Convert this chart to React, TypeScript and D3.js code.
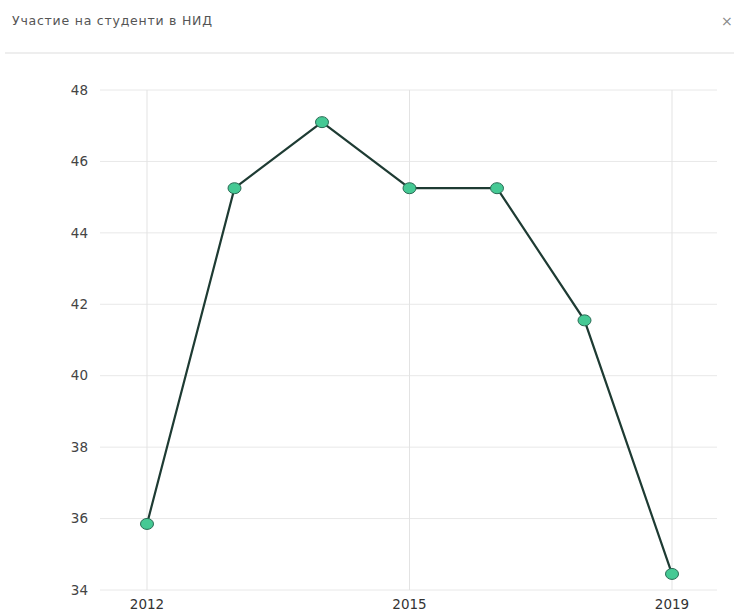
import React from "react";
import * as d3 from "d3";

const categories = ["2012", "2013", "2014", "2015", "2016", "2017", "2019"];
const values = [35.85, 45.25, 47.1, 45.25, 45.25, 41.55, 34.45];
const xTickLabels = ["2012", "2015", "2019"];
const yTicks = [34, 36, 38, 40, 42, 44, 46, 48];
const title = "Участие на студенти в НИД";

const W = 734;
const H = 616;

export default function App() {
  const x = d3.scalePoint<string>().domain(categories).range([147, 672]);
  const y = d3.scaleLinear().domain([34, 48]).range([590, 90]);
  const line = d3
    .line<number>()
    .x((_, i) => x(categories[i]) as number)
    .y((d) => y(d));
  const font = "'DejaVu Sans', sans-serif";
  return (
    <svg
      width={W}
      height={H}
      style={{ position: "absolute", left: 0, top: 0, background: "#fff" }}
    >
      <text x={12} y={25} fontFamily={font} fontSize={12.5} fill="#555" textLength={200}>
        {title}
      </text>
      <text x={721} y={26} fontFamily={font} fontSize={14} fill="#888">
        ×
      </text>
      <line x1={5} x2={734} y1={53} y2={53} stroke="#eeeeee" strokeWidth={2} />
      {yTicks.map((t) => (
        <g key={t}>
          <line x1={100} x2={717} y1={y(t)} y2={y(t)} stroke="#e8e8e8" strokeWidth={1} />
          <text
            x={88}
            y={y(t)}
            dy="0.35em"
            textAnchor="end"
            fontFamily={font}
            fontSize={13.5}
            fill="#444"
          >
            {t}
          </text>
        </g>
      ))}
      {xTickLabels.map((c) => (
        <g key={c}>
          <line x1={x(c)} x2={x(c)} y1={90} y2={590} stroke="#e3e3e3" strokeWidth={1} />
          <text
            x={x(c)}
            y={609}
            textAnchor="middle"
            fontFamily={font}
            fontSize={13.5}
            fill="#333"
          >
            {c}
          </text>
        </g>
      ))}
      <path d={line(values) || ""} fill="none" stroke="#1e3b33" strokeWidth={2.2} />
      {values.map((v, i) => (
        <ellipse
          key={i}
          cx={x(categories[i])}
          cy={y(v)}
          rx={6.5}
          ry={5.5}
          fill="#45c994"
          stroke="#2a6b55"
          strokeWidth={1}
        />
      ))}
    </svg>
  );
}
